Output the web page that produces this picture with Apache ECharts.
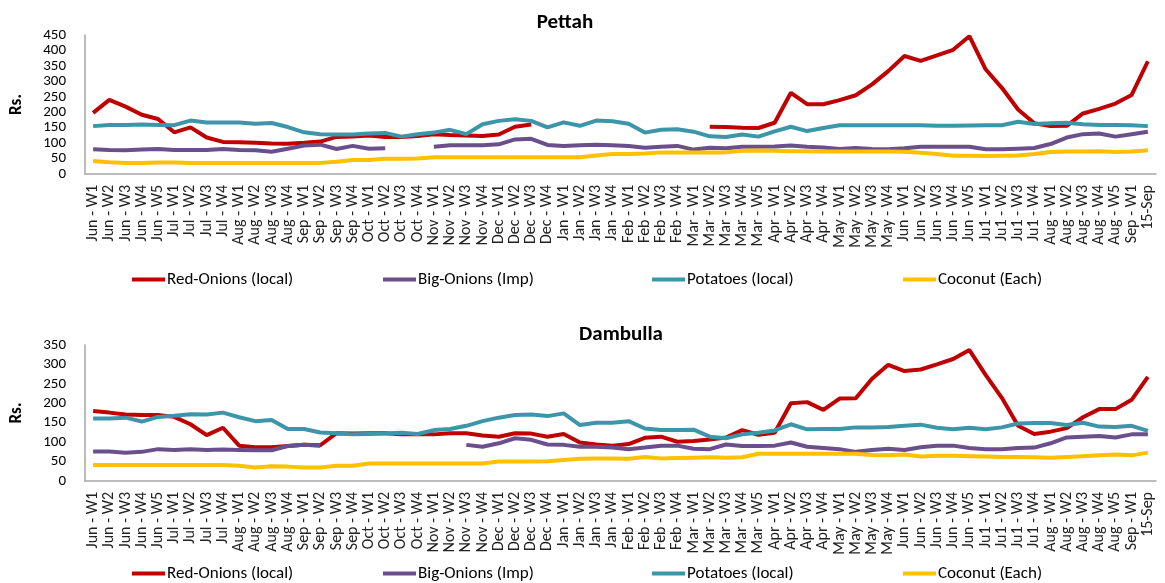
<!DOCTYPE html>
<html>
<head>
<meta charset="utf-8">
<script src="https://cdn.jsdelivr.net/npm/echarts@6/dist/echarts.min.js"></script>
<style>
html,body{margin:0;padding:0;background:#fff;}
#c{width:1165px;height:583px;}
</style>
</head>
<body>
<div id="c"></div>
<script>
const categories = ["Jun - W1","Jun - W2","Jun - W3","Jun - W4","Jun - W5","Jul - W1","Jul - W2","Jul - W3","Jul - W4","Aug - W1","Aug - W2","Aug - W3","Aug - W4","Sep - W1","Sep - W2","Sep - W3","Sep - W4","Oct - W1","Oct - W2","Oct - W3","Oct - W4","Nov - W1","Nov - W2","Nov - W3","Nov - W4","Dec - W1","Dec - W2","Dec - W3","Dec - W4","Jan - W1","Jan - W2","Jan - W3","Jan - W4","Feb - W1","Feb - W2","Feb - W3","Feb - W4","Mar - W1","Mar - W2","Mar - W3","Mar - W4","Mar - W5","Apr - W1","Apr - W2","Apr - W3","Apr - W4","May - W1","May - W2","May - W3","May - W4","Jun - W1","Jun - W2","Jun - W3","Jun - W4","Jun - W5","Ju1 - W1","Ju1 - W2","Ju1 - W3","Ju1 - W4","Aug - W1","Aug - W2","Aug - W3","Aug - W4","Aug - W5","Sep - W1","15-Sep"];

const seriesNames = ["Red-Onions (local)","Big-Onions (Imp)","Potatoes (local)","Coconut (Each)"];
const pettahTicks = [0,50,100,150,200,250,300,350,400,450];
const dambullaTicks = [0,50,100,150,200,250,300,350];

// Pettah
const pettahRedOnions = [198,240,218,192,178,135,151,118,104,103,101,99,98,101,105,120,121,125,120,120,123,129,126,125,123,128,153,160,null,null,null,null,null,null,null,null,null,null,153,152,150,149,166,263,226,226,239,255,290,333,382,366,384,402,446,339,279,209,164,155,156,196,211,228,256,365];
const pettahBigOnions = [80,78,77,79,81,78,78,78,81,78,77,72,82,92,95,81,91,82,83,null,null,88,93,93,93,96,112,114,94,91,93,95,93,91,85,88,91,79,85,83,88,88,89,92,88,86,81,84,81,80,83,88,88,88,88,80,80,82,84,97,118,129,131,121,129,137];
const pettahPotatoes = [155,159,159,160,159,158,173,167,167,167,163,165,152,135,129,128,128,131,133,121,129,134,143,129,161,172,177,172,151,167,156,173,171,163,134,143,145,137,122,120,128,121,138,153,139,149,158,158,158,158,158,158,156,156,157,158,158,169,162,164,166,161,159,159,158,155];
const pettahCoconut = [42,38,36,36,37,37,36,36,36,36,36,36,36,36,36,40,45,45,49,49,50,54,54,54,54,54,54,54,54,54,54,60,65,65,66,70,70,70,70,70,75,76,75,74,74,73,73,73,73,73,72,69,65,59,59,58,59,60,65,71,73,73,74,71,73,77];

// Dambulla
const dambullaRedOnions = [180,176,171,170,170,165,146,118,137,91,87,87,90,93,92,123,122,123,123,120,120,120,123,123,117,114,123,122,114,121,99,94,91,95,111,114,101,103,107,112,131,119,124,200,203,183,212,213,263,299,283,287,300,314,337,273,214,142,121,127,136,164,185,185,209,268];
const dambullaBigOnions = [76,76,73,75,82,80,82,80,81,80,79,79,90,93,91,null,null,null,null,null,null,null,null,93,88,97,110,106,94,93,88,88,86,82,86,91,91,83,82,94,90,90,91,99,88,85,82,75,80,83,80,87,91,91,85,82,82,85,86,97,112,114,116,112,120,120];
const dambullaPotatoes = [161,161,163,153,165,168,172,171,176,164,154,157,134,134,125,123,120,121,122,124,121,131,134,142,154,163,170,171,167,174,144,150,150,154,135,131,131,132,114,110,120,124,130,146,133,134,134,138,138,139,142,145,137,133,137,133,138,148,149,149,144,150,140,139,142,129];
const dambullaCoconut = [41,41,41,41,41,41,41,41,41,39,35,38,37,35,35,39,39,45,45,45,45,45,45,45,45,50,50,50,51,54,57,58,58,57,62,58,59,60,61,60,61,70,70,70,70,70,70,70,67,66,68,63,65,65,64,63,62,62,61,60,62,64,66,68,66,73];

const colors = ["#C00000","#6A4F8C","#3D95AA","#FFC000"];
const FONT = "Carlito, 'Liberation Sans Narrow', 'Open Sans', sans-serif";

const pettahData = [pettahRedOnions, pettahBigOnions, pettahPotatoes, pettahCoconut];
const dambullaData = [dambullaRedOnions, dambullaBigOnions, dambullaPotatoes, dambullaCoconut];

function xAxisFor(gridIndex){
  return {
    type:'category', gridIndex, data: categories, boundaryGap: true,
    axisLine:{show:true, lineStyle:{color:'#A6A6A6', width:1.5}},
    axisTick:{show:false},
    axisLabel:{interval:0, rotate:90, fontSize:16, color:'#222', fontFamily:FONT, margin:11}
  };
}
function yAxisFor(gridIndex, ticks){
  return {
    type:'value', gridIndex, min: ticks[0], max: ticks[ticks.length-1], interval: ticks[1]-ticks[0],
    name:'Rs.', nameLocation:'middle', nameRotate:90, nameGap:60,
    nameTextStyle:{fontWeight:'bold', fontSize:17, color:'#000', fontFamily:FONT},
    axisLine:{show:true, lineStyle:{color:'#A6A6A6', width:1.5}},
    axisTick:{show:false},
    splitLine:{show:false},
    axisLabel:{fontSize:15, lineHeight:14, color:'#000', fontFamily:FONT, margin:19, showMinLabel:true, showMaxLabel:true, hideOverlap:false}
  };
}
const series = [];
[pettahData, dambullaData].forEach((set, gi) => {
  set.forEach((vals, k) => {
    series.push({
      name: seriesNames[k], type:'line', xAxisIndex: gi, yAxisIndex: gi,
      data: vals, symbol:'none', connectNulls:false, smooth:false,
      lineStyle:{color: colors[k], width:4}, itemStyle:{color: colors[k]},
      z: 2 + k
    });
  });
});
const legendLefts = [132, 383, 652, 903];
const legendTops = [271, 565];
const legends = [];
legendTops.forEach(t => {
  seriesNames.forEach((n, k) => {
    legends.push({
      data:[n], left: legendLefts[k], top: t, padding:0, icon:'rect', itemWidth:33, itemHeight:4, itemGap:0,
      textStyle:{fontSize:17, color:'#000', fontFamily:FONT, padding:[0,0,0,-3]},
      selectedMode:false
    });
  });
});

const chart = echarts.init(document.getElementById('c'), null, {renderer:'canvas'});
chart.setOption({
  animation:false,
  backgroundColor:'#fff',
  title:[
    {text:'Pettah', left:560, top:7, textAlign:'center', textStyle:{fontSize:21, fontWeight:'bold', color:'#000', fontFamily:FONT}},
    {text:'Dambulla', left:616, top:319, textAlign:'center', textStyle:{fontSize:21, fontWeight:'bold', color:'#000', fontFamily:FONT}}
  ],
  grid:[
    {left:77, width:1079, top:35, height:139},
    {left:77, width:1079, top:345, height:136}
  ],
  xAxis:[xAxisFor(0), xAxisFor(1)],
  yAxis:[yAxisFor(0, pettahTicks), yAxisFor(1, dambullaTicks)],
  legend: legends,
  series
});
</script>
</body>
</html>
